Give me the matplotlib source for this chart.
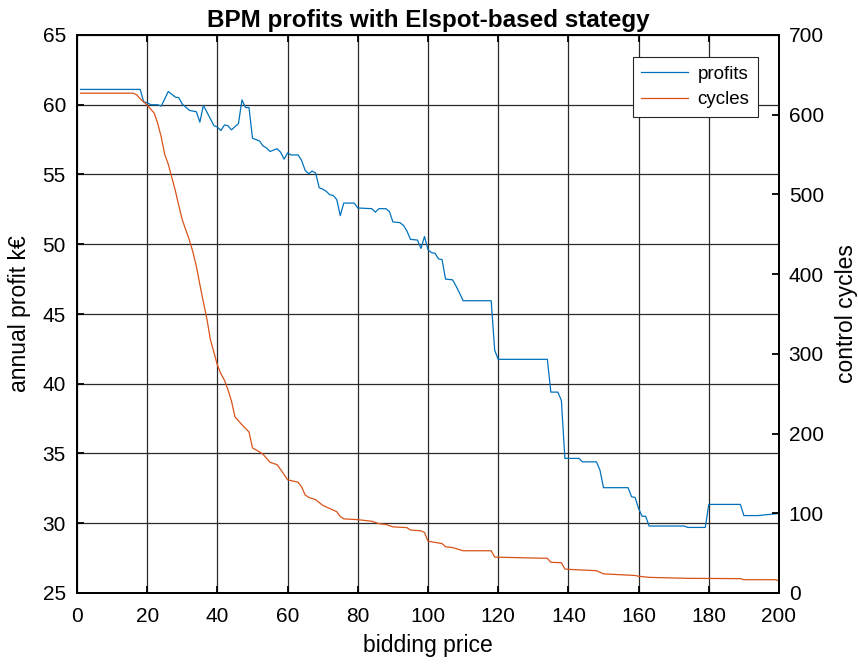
import matplotlib
matplotlib.use('Agg')
import matplotlib.pyplot as plt

plt.rcParams['font.family'] = ['Liberation Sans', 'DejaVu Sans']

# bidding price breakpoints and annual profit (k€)
price_p = [1, 18, 19, 20, 21, 23, 24, 26, 28, 29, 30, 32, 34, 35, 36, 38, 39, 40,
           41, 42, 43, 44, 46, 47, 48, 49, 50, 52, 53, 54, 55, 56, 57, 58, 59, 60,
           61, 63, 64, 65, 66, 67, 68, 69, 70, 71, 72, 73, 74, 75, 76, 79, 80, 84,
           85, 86, 88, 89, 90, 92, 93, 94, 95, 97, 98, 99, 100, 101, 102, 103, 104,
           105, 107, 108, 109, 110, 118, 119, 120, 134, 135, 137, 138, 139, 143,
           144, 148, 149, 150, 157, 158, 159, 160, 161, 162, 163, 173, 174, 179,
           180, 189, 190, 194, 200]
profits = [61.1, 61.1, 60.2, 60.15, 60.0, 60.0, 59.9, 60.95, 60.55, 60.5, 60.05,
           59.6, 59.5, 58.75, 59.95, 59.0, 58.5, 58.4, 58.15, 58.55, 58.5, 58.2,
           58.65, 60.35, 59.8, 59.8, 57.6, 57.4, 57.05, 56.9, 56.65, 56.75, 56.85,
           56.6, 56.1, 56.55, 56.4, 56.4, 56.0, 55.3, 55.05, 55.25, 55.1, 54.05,
           53.95, 53.8, 53.55, 53.5, 53.2, 52.05, 52.95, 52.95, 52.6, 52.55, 52.3,
           52.55, 52.55, 52.35, 51.6, 51.55, 51.35, 50.95, 50.35, 50.3, 49.7, 50.55,
           49.6, 49.4, 49.35, 48.95, 48.9, 47.5, 47.45, 47.0, 46.5, 45.95, 45.95,
           42.4, 41.75, 41.75, 39.4, 39.4, 38.8, 34.65, 34.65, 34.4, 34.4, 33.8,
           32.55, 32.55, 31.9, 31.85, 31.05, 30.5, 30.5, 29.8, 29.8, 29.7, 29.7,
           31.35, 31.35, 30.55, 30.55, 30.7]

# bidding price breakpoints and number of control cycles
price_c = [1, 16, 17, 18, 19, 20, 21, 22, 23, 24, 25, 26, 28, 29, 30, 32, 33, 34,
           35, 36, 37, 38, 39, 40, 41, 42, 43, 44, 45, 47, 49, 50, 52, 53, 55, 57,
           58, 60, 63, 64, 65, 66, 68, 70, 72, 74, 75, 76, 80, 84, 86, 88, 90, 94,
           95, 98, 99, 100, 104, 105, 107, 110, 118, 119, 134, 135, 138, 139, 143,
           148, 149, 150, 159, 160, 163, 174, 189, 190, 199, 200]
cycles = [627, 627, 625, 620, 616, 612, 607, 602, 589, 572, 550, 538, 505, 486,
          468, 443, 428, 410, 387, 365, 344, 318, 302, 286, 275, 267, 255, 241,
          221, 211, 202, 182, 177, 174, 164, 161, 155, 142, 139, 133, 123, 120,
          117, 110, 106, 102, 96, 93, 92, 90, 87, 86, 83, 82, 79, 78, 76, 65, 62,
          58, 57, 53, 53, 45, 43.5, 38.5, 38, 30, 29, 28, 26, 24, 22, 21, 19.6,
          18.4, 18, 16.7, 16.7, 15]

x_ticks = list(range(0, 201, 20))
left_ticks = list(range(25, 66, 5))
right_ticks = list(range(0, 701, 100))

blue = '#0072BD'
orange = '#D95319'

fig = plt.figure(figsize=(8.58, 6.66), dpi=100)
ax = fig.add_axes([77 / 858, 73 / 666, 702 / 858, 558 / 666])
ax2 = ax.twinx()

l1, = ax.plot(price_p, profits, color=blue, lw=0.9, label='profits')
l2, = ax2.plot(price_c, cycles, color=orange, lw=0.9, label='cycles')

ax.set_xlim(0, 200)
ax.set_ylim(25, 65)
ax2.set_ylim(0, 700)
ax.set_xticks(x_ticks)
ax.set_yticks(left_ticks)
ax2.set_yticks(right_ticks)

ax.grid(True, color='#2a2a2a', lw=0.9)
ax.set_axisbelow(True)

for a in (ax, ax2):
    for s in a.spines.values():
        s.set_linewidth(1.3)
        s.set_color('black')

ax.tick_params(direction='in', length=5, width=1.3, labelsize=15, pad=8,
               top=True, right=False, colors='black')
ax.tick_params(axis='x', pad=10)
ax2.tick_params(direction='in', length=5, width=1.3, labelsize=15, pad=7,
                colors='black')

ax.set_xlabel('bidding price', fontsize=16.5, labelpad=6)
ax.set_ylabel('annual profit k€', fontsize=16.5, labelpad=8)
ax2.set_ylabel('control cycles', fontsize=16.5, labelpad=8)
ax.set_title('BPM profits with Elspot-based stategy', fontsize=17.5,
             fontweight='bold', pad=6)

leg = ax2.legend(handles=[l1, l2], loc='upper right',
                 bbox_to_anchor=((758 - 77) / 702, (593 - 57) / 558),
                 borderaxespad=0, fontsize=13.5, fancybox=False, framealpha=1,
                 edgecolor='#262626', handlelength=2.5, labelspacing=0.45,
                 handletextpad=0.5, borderpad=0.45)
leg.get_frame().set_linewidth(0.8)

fig.savefig('out.png', dpi=100)
